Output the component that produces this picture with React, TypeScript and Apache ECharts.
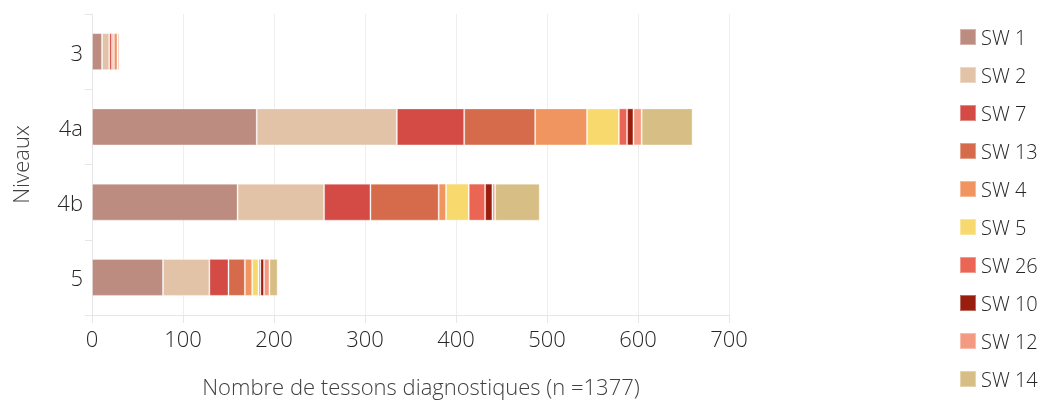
import React, { useEffect, useRef } from "react";
import * as echarts from "echarts";

const niveaux = ["3", "4a", "4b", "5"];
const typeNames = ["SW 1", "SW 2", "SW 7", "SW 13", "SW 4", "SW 5", "SW 26", "SW 10", "SW 12", "SW 14"];
const typeColors = ["#bd8c80", "#e2c3a7", "#d44b45", "#d66b4b", "#f09460", "#f7d96e", "#eb6555", "#9a1e0e", "#f59a82", "#d7be84"];
// values per type, in order of niveaux [3, 4a, 4b, 5]
const sw1 = [11, 181, 160, 78];
const sw2 = [8, 154, 95, 51];
const sw7 = [3, 74, 51, 21];
const sw13 = [2, 78, 75, 18];
const sw4 = [4, 57, 8, 8];
const sw5 = [0, 35, 25, 7];
const sw26 = [0, 9, 18, 2];
const sw10 = [0, 7, 8, 4];
const sw12 = [2, 9, 3, 6];
const sw14 = [0, 56, 49, 9];
const seriesValues = [sw1, sw2, sw7, sw13, sw4, sw5, sw26, sw10, sw12, sw14];
const xTicks = [0, 100, 200, 300, 400, 500, 600, 700];

const FONT = "'Open Sans', sans-serif";

export default function App() {
  const ref = useRef<HTMLDivElement>(null);
  useEffect(() => {
    if (!ref.current) return;
    const chart = echarts.init(ref.current, undefined, { renderer: "svg" });
    chart.setOption({
      animation: false,
      textStyle: { fontFamily: FONT, fontWeight: 300 },
      grid: { left: 92, right: 319, top: 14, bottom: 86 },
      legend: {
        orient: "vertical",
        left: 954,
        top: 22,
        height: 390,
        itemWidth: 16,
        itemHeight: 16,
        itemGap: 18,
        icon: "rect",
        data: typeNames,
        textStyle: { fontSize: 20, color: "#262626", fontFamily: FONT, fontWeight: 300 },
      },
      xAxis: {
        type: "value",
        min: xTicks[0],
        max: xTicks[xTicks.length - 1],
        interval: 100,
        axisLine: { show: true, lineStyle: { color: "#e6e6e6" } },
        axisTick: { show: true, length: 8, lineStyle: { color: "#e6e6e6" } },
        splitLine: { show: true, lineStyle: { color: "#eeeeee" } },
        axisLabel: { fontSize: 22, color: "#262626", margin: 12, fontFamily: FONT, fontWeight: 300 },
      },
      yAxis: {
        type: "category",
        data: niveaux,
        inverse: true,
        name: "Niveaux",
        nameLocation: "middle",
        nameGap: 61,
        nameTextStyle: { fontSize: 22, color: "#404040", fontFamily: FONT, fontWeight: 300 },
        axisLine: { show: true, lineStyle: { color: "#e6e6e6" } },
        axisTick: { show: true, length: 7, lineStyle: { color: "#e6e6e6" } },
        axisLabel: { fontSize: 22, color: "#262626", margin: 9, fontFamily: FONT, fontWeight: 300 },
      },
      graphic: [
        {
          type: "text",
          x: 421,
          y: 386,
          style: {
            text: "Nombre de tessons diagnostiques (n =1377)",
            fontSize: 22,
            fill: "#404040",
            fontFamily: FONT,
            fontWeight: 300,
            align: "center",
            verticalAlign: "middle",
          },
        },
      ],
      series: typeNames.map((name, i) => ({
        name,
        type: "bar",
        stack: "total",
        barWidth: 37,
        data: seriesValues[i],
        itemStyle: { color: typeColors[i], borderColor: "rgba(255,255,255,0.35)", borderWidth: 1 },
      })),
    });
    return () => chart.dispose();
  }, []);
  return <div ref={ref} style={{ position: "fixed", left: 0, top: 0, width: 1048, height: 401 }} />;
}
